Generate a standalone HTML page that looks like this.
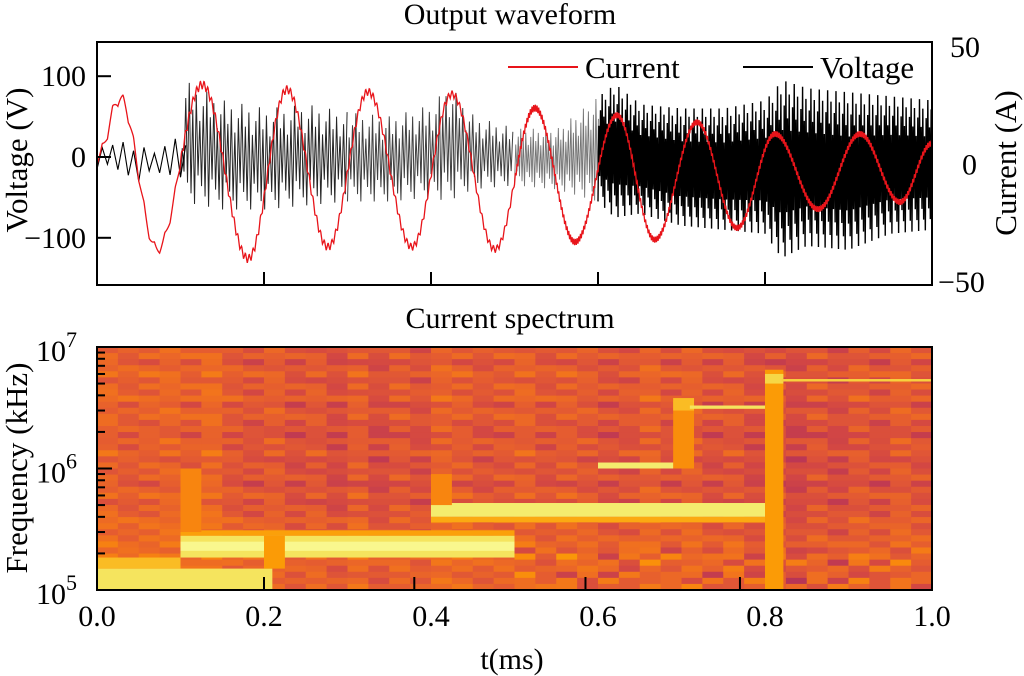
<!DOCTYPE html>
<html><head><meta charset="utf-8"><title>Output waveform and current spectrum</title>
<style>
html,body{margin:0;padding:0;background:#fff;}
svg{display:block;font-family:"Liberation Serif","DejaVu Serif",serif;}
</style></head>
<body>
<svg id="chart" width="1024" height="676" viewBox="0 0 1024 676" xmlns="http://www.w3.org/2000/svg">
<defs>
<clipPath id="clipTop"><rect x="97" y="42" width="835" height="243"/></clipPath>
<clipPath id="clipBot"><rect x="97" y="347" width="835" height="243"/></clipPath>
</defs>
<text x="510" y="24" font-size="30" text-anchor="middle">Output waveform</text>
<text x="510" y="328" font-size="30" text-anchor="middle">Current spectrum</text>
<g id="voltage" clip-path="url(#clipTop)"></g>
<g id="current" clip-path="url(#clipTop)"></g>
<g id="spec" clip-path="url(#clipBot)"></g>
<rect x="97" y="42" width="835" height="243" fill="none" stroke="#000" stroke-width="2"/>
<rect x="97" y="347" width="835" height="243" fill="none" stroke="#000" stroke-width="2"/>
<g id="axes"></g>
<g>
<line x1="508" y1="67" x2="578" y2="67" stroke="#e8141a" stroke-width="2"/>
<text x="585" y="78" font-size="31">Current</text>
<line x1="743" y1="67" x2="813" y2="67" stroke="#000" stroke-width="2"/>
<text x="820" y="78" font-size="31">Voltage</text>
</g>
<text transform="translate(27,160) rotate(-90)" font-size="31" text-anchor="middle">Voltage (V)</text>
<text transform="translate(1016,163) rotate(-90)" font-size="31" text-anchor="middle">Current (A)</text>
<text transform="translate(27,468) rotate(-90)" font-size="31" text-anchor="middle">Frequency (kHz)</text>
<text x="512" y="669" font-size="30" text-anchor="middle">t(ms)</text>
</svg>
<script>
// ---------- data ----------
const iT = [0,0.0275,0.072,0.126,0.181,0.2275,0.2766,0.3246,0.377,0.425,0.4766,0.5245,0.5725,0.6228,0.668,0.7186,0.7665,0.812,0.8635,0.9138,0.9617,1.0];
const iV = [3,28,-36,34,-40,32,-35,31,-35,30,-36,24,-33,21,-32,18,-27,13,-19,13,-16,9];
const rippleT = [0,0.1,0.5,0.6,1.0];
const rippleA = [6,4,3,2.5,2.5];
const vT  = [0,0.05,0.1,0.102,0.15,0.2,0.25,0.3,0.35,0.4,0.42,0.45,0.5,0.55,0.6,0.62,0.65,0.7,0.75,0.8,0.82,0.85,0.9,0.95,1.0];
const vHi = [22,15,25,95,70,60,65,55,50,65,90,50,35,35,75,90,65,60,60,70,95,85,80,75,70];
const vLo = [-15,-30,-25,-55,-65,-65,-60,-55,-55,-50,-55,-40,-35,-40,-55,-75,-70,-85,-90,-95,-125,-110,-115,-95,-90];
const segT = [0,0.1,0.3,0.5,0.6,1.0];
const segAlpha = [1,0.85,0.75,0.55,1];
const segPeriod = [0.0125,0.0042,0.004,0.003,0.002];
const segWidth = [1.1,1.0,1.0,0.9,1.4];
const vTicks = [100,0,-100];
const iTicks = [50,0,-50];
const tTicks = [0,0.2,0.4,0.6,0.8,1.0];
const tLabels = ["0.0","0.2","0.4","0.6","0.8","1.0"];
const botTickT = [0.2,0.38,0.585,0.77];
// spectrogram
const rowBase = [0.60,0.62,0.58,0.61,0.63,0.59,0.62,0.60,0.63,0.58,0.61,0.62,0.59,0.60,0.57,0.61,0.59,0.62,0.58,0.60,0.59,0.61,0.57,0.60,0.62,0.58,0.61,0.60,0.63,0.62,0.61,0.63,0.64,0.62,0.65,0.64,0.63,0.62,0.63,0.64];
const colBase = [0.02,0.0,0.01,0.02,0.0,0.03,-0.01,-0.02,0.0,-0.03,-0.01,-0.04,0.0,-0.04,-0.01,-0.03,0.01,0.0,-0.02,-0.01,0.01,-0.02,0.0,-0.01,-0.03,-0.02,0.01,-0.02,0.0,-0.03,-0.01,-0.04,-0.03,-0.05,-0.02,-0.04,-0.01,-0.03,0.0,-0.02];
const bandT0 = [0,   0,    0.1,  0.1,  0.1,  0.4,  0.4,  0.6,  0.69, 0.69, 0.71, 0.8,  0.8,  0.82, 0.1,  0.4,  0.2];
const bandT1 = [0.21,0.1,  0.5,  0.5,  0.5,  0.82, 0.82, 0.71, 0.715,0.715,0.8,  0.822,0.822,1.0,  0.125,0.425,0.225];
const bandF0 = [1e5, 1.5e5,1.85e5,2.1e5,2.8e5,4e5,3.6e5,1e6,  1e6,  3e6,  3.1e6,1e5,  5e6,  5.2e6,3e5,  5e5,  1.5e5];
const bandF1 = [1.5e5,1.85e5,2.8e5,2.5e5,3.1e5,5.2e5,4e5,1.12e6,3.6e6,3.8e6,3.3e6,6.5e6,6e6, 5.45e6,1e6, 9e5,  2.8e5];
const bandV  = [0.93,0.82, 0.93, 0.98, 0.76, 0.95, 0.78, 0.95, 0.72, 0.82, 0.93, 0.75, 0.9,  0.88, 0.7,  0.7,  0.75];

// ---------- scales ----------
const X = t => 97 + t*835;
const VY = v => 157 - v*0.808;
const IY = a => 164.5 - a*2.35;
const FY = f => 590 - (Math.log10(f)-5)*121.5;
const NS = "http://www.w3.org/2000/svg";
function mk(tag, attrs, parent){const e=document.createElementNS(NS,tag);for(const k in attrs)e.setAttribute(k,attrs[k]);parent.appendChild(e);return e;}
function interp(xs, ys, x){for(let i=0;i<xs.length-1;i++){if(x<=xs[i+1]){const u=(x-xs[i])/(xs[i+1]-xs[i]);return ys[i]+(ys[i+1]-ys[i])*u;}}return ys[ys.length-1];}

// ---------- voltage ----------
const gV = document.getElementById('voltage');
for(let s=0;s<segT.length-1;s++){
  let d=""; const P=segPeriod[s]; let t=segT[s]; let k=0;
  while(t<segT[s+1]){
    const hi=interp(vT,vHi,t), lo=interp(vT,vLo,t);
    const jh=((k*7)%5)/4, jl=((k*3)%4)/3;
    const h=lo+(hi-lo)*(0.72+0.28*jh);
    const l=lo+(hi-lo)*(0.0+0.25*jl);
    d+=(d?"L":"M")+X(t).toFixed(2)+","+VY(l).toFixed(2)+"L"+X(t+P*0.5).toFixed(2)+","+VY(h).toFixed(2);
    t+=P; k++;
  }
  const p=mk('path',{d:d,fill:"none",stroke:"#000","stroke-width":segWidth[s],"stroke-opacity":segAlpha[s]},gV);
  
  
}

// ---------- current ----------
const gI = document.getElementById('current');
function curBase(t){for(let i=0;i<iT.length-1;i++){if(t<=iT[i+1]){const u=(t-iT[i])/(iT[i+1]-iT[i]);return iV[i]+(iV[i+1]-iV[i])*(1-Math.cos(Math.PI*u))/2;}}return iV[iV.length-1];}
let dI="";
for(let t=0;t<=1.0001;t+=0.0005){
  const rp = t<0.1?0.0125:(t<0.5?0.0045:0.002);
  const ph=(t%rp)/rp;
  const tri = ph<0.5?(ph*4-1):(3-ph*4);
  const a=curBase(t)+interp(rippleT,rippleA,t)*tri*0.5;
  dI+=(dI?"L":"M")+X(t).toFixed(2)+","+IY(a).toFixed(2);
}
const pI=mk('path',{d:dI,fill:"none",stroke:"#e8141a","stroke-width":"1.3"},gI);



// ---------- spectrogram ----------
const cmapT=[0.45,0.5,0.55,0.6,0.65,0.7,0.75,0.8,0.85,0.9,0.95,1.0];
const cmapC=["#a52c60","#bc3754","#d34743","#e55c30","#f0701f","#f8850f","#fb9b06","#fbb31a","#f9c932","#f6d746","#f4ec6e","#fcffa4"];
function hex(c){return [parseInt(c.substr(1,2),16),parseInt(c.substr(3,2),16),parseInt(c.substr(5,2),16)];}
function cmap(v){v=Math.max(0.45,Math.min(1,v));for(let i=0;i<cmapT.length-1;i++){if(v<=cmapT[i+1]){const u=(v-cmapT[i])/(cmapT[i+1]-cmapT[i]);const a=hex(cmapC[i]),b=hex(cmapC[i+1]);return "rgb("+a.map((x,j)=>Math.round(x+(b[j]-x)*u)).join(",")+")";}}return cmapC[cmapC.length-1];}
const gS=document.getElementById('spec');
const nC=colBase.length, nR=rowBase.length;
for(let c=0;c<nC;c++){
  for(let r=0;r<nR;r++){
    let v=rowBase[r]+colBase[c]+(((r*7+c*13)%5)-2)*0.015;
    if(r>=nR-7 && c>=20) v+= (((r*5+c*11)%7)-3)*0.02;
    const y0=347+r*243/nR;
    const cell=mk('rect',{x:(X(c/nC)).toFixed(2),y:y0.toFixed(2),width:(835/nC+0.6).toFixed(2),height:(243/nR+0.6).toFixed(2),fill:cmap(v)},gS);
    
    
  }
}
for(let b=0;b<bandT0.length;b++){
  const br=mk('rect',{x:X(bandT0[b]).toFixed(2),y:FY(bandF1[b]).toFixed(2),width:(X(bandT1[b])-X(bandT0[b])).toFixed(2),height:(FY(bandF0[b])-FY(bandF1[b])).toFixed(2),fill:cmap(bandV[b])},gS);
  
  
}

// ---------- axes ----------
const gA=document.getElementById('axes');
vTicks.forEach(v=>{
  const l=mk('line',{x1:97,y1:VY(v),x2:111,y2:VY(v),stroke:"#000","stroke-width":2},gA);
  
  
  const tx=mk('text',{x:86,y:VY(v)+10,"font-size":30,"text-anchor":"end"},gA);
  tx.textContent=String(v).replace('-','\u2212');
  
  
});
iTicks.forEach(v=>{
  const tx=mk('text',{x:v<0?938:(v===0?962:950),y:IY(v)+10,"font-size":30},gA);
  tx.textContent=(v<0?"\u2212":"")+Math.abs(v);
  
  
});
tTicks.forEach((t,i)=>{
  const l=mk('line',{x1:X(t),y1:285,x2:X(t),y2:272,stroke:"#000","stroke-width":2},gA);
  
  
  const tx=mk('text',{x:X(t),y:626,"font-size":30,"text-anchor":"middle"},gA);
  tx.textContent=tLabels[i];
  
  
});
botTickT.forEach(t=>{
  const l=mk('line',{x1:X(t),y1:590,x2:X(t),y2:577,stroke:"#000","stroke-width":2},gA);
  
  
});
[5,6,7].forEach(e=>{
  const y=FY(Math.pow(10,e));
  const l=mk('line',{x1:97,y1:y,x2:112,y2:y,stroke:"#000","stroke-width":2},gA);
  
  
  const tx=mk('text',{x:36,y:y+14,"font-size":30},gA);
  tx.textContent="10";
  
  
  const sp=mk('tspan',{dy:-14,"font-size":22},tx);
  sp.textContent=String(e);
  if(e<7){for(let m=2;m<10;m++){const ym=FY(m*Math.pow(10,e));const lm=mk('line',{x1:97,y1:ym,x2:105,y2:ym,stroke:"#000","stroke-width":2},gA);
    
    }}
});
</script>
</body></html>
